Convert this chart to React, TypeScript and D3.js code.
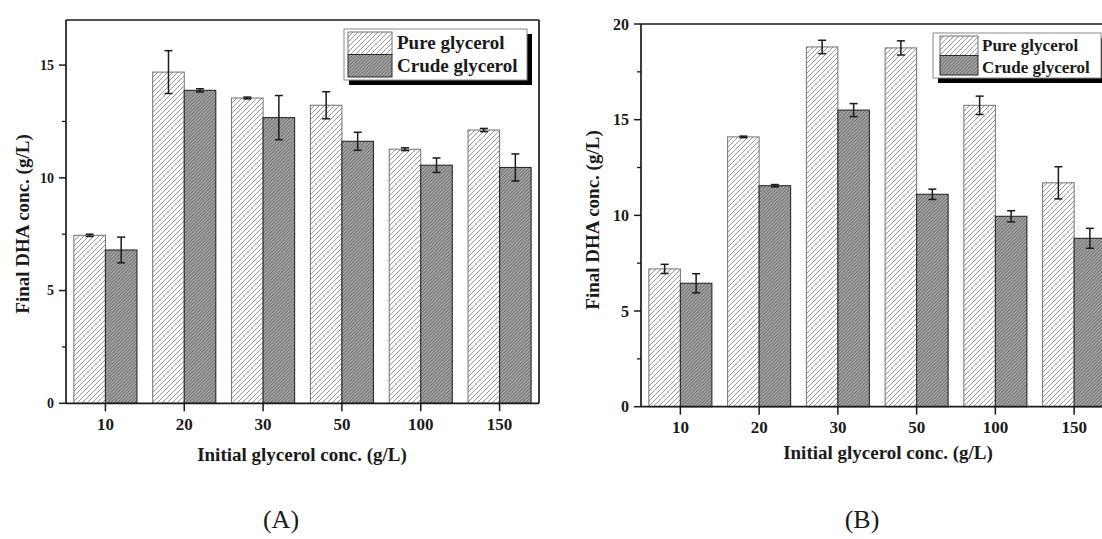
import React from 'react';
import * as d3 from 'd3';

const categories = ['10', '20', '30', '50', '100', '150'];
const seriesNames = ['Pure glycerol', 'Crude glycerol'];

const pureA = [7.45, 14.69, 13.54, 13.22, 11.27, 12.12];
const pureAErr = [0.05, 0.95, 0.04, 0.6, 0.06, 0.07];
const crudeA = [6.8, 13.88, 12.67, 11.62, 10.56, 10.46];
const crudeAErr = [0.57, 0.07, 0.98, 0.4, 0.32, 0.6];

const pureB = [7.2, 14.1, 18.8, 18.75, 15.75, 11.7];
const pureBErr = [0.24, 0.04, 0.35, 0.37, 0.48, 0.84];
const crudeB = [6.45, 11.55, 15.5, 11.1, 9.95, 8.8];
const crudeBErr = [0.5, 0.06, 0.34, 0.27, 0.29, 0.52];

const yTicksA = [0, 5, 10, 15];
const yMinorA = [2.5, 7.5, 12.5];
const yTicksB = [0, 5, 10, 15, 20];
const yMinorB = [2.5, 7.5, 12.5, 17.5];

const xTitle = 'Initial glycerol conc. (g/L)';
const yTitle = 'Final DHA conc. (g/L)';
const panelLabels = ['(A)', '(B)'];

const FONT = '"Liberation Serif", "Times New Roman", serif';
const INK = '#1a1a1a';

type Cfg = {
  x0: number; x1: number; yTop: number; yBottom: number; yMax: number;
  ticks: number[]; minor: number[];
  pure: number[]; pureErr: number[]; crude: number[]; crudeErr: number[];
  yTickFont: number; xTickFont: number; titleFont: number;
  xTickBase: number; xTitleX: number; xTitleY: number;
  yTitleX: number; yTitleY: number;
  legend: { x: number; y: number; w: number; h: number; sw: number; sx: number; tx: number; font: number; b1: number; b2: number };
  label: string; labelX: number;
};

function Panel({ c }: { c: Cfg }) {
  const x = d3.scaleBand<string>().domain(categories).range([c.x0, c.x1]).paddingInner(0).paddingOuter(0);
  const y = d3.scaleLinear().domain([0, c.yMax]).range([c.yBottom, c.yTop]);
  const bw = x.bandwidth() * 0.4;
  const cx = (cat: string) => (x(cat) as number) + x.bandwidth() / 2;
  const cap = 4;
  const L = c.legend;
  const rowH = (L.h - 6) / 2;
  return (
    <g>
      {categories.map((cat, i) => (
        <g key={cat}>
          <rect x={cx(cat) - bw} y={y(c.pure[i])} width={bw} height={c.yBottom - y(c.pure[i])}
            fill="url(#hatchPure)" stroke="#707070" strokeWidth={1} />
          <rect x={cx(cat)} y={y(c.crude[i])} width={bw} height={c.yBottom - y(c.crude[i])}
            fill="url(#hatchCrude)" stroke="#2a2a2a" strokeWidth={1.1} />
        </g>
      ))}
      {categories.map((cat, i) => {
        const px = cx(cat) - bw / 2;
        const qx = cx(cat) + bw / 2;
        return (
          <g key={'e' + cat} stroke={INK} strokeWidth={1.5}>
            <line x1={px} x2={px} y1={y(c.pure[i] - c.pureErr[i])} y2={y(c.pure[i] + c.pureErr[i])} />
            <line x1={px - cap} x2={px + cap} y1={y(c.pure[i] - c.pureErr[i])} y2={y(c.pure[i] - c.pureErr[i])} />
            <line x1={px - cap} x2={px + cap} y1={y(c.pure[i] + c.pureErr[i])} y2={y(c.pure[i] + c.pureErr[i])} />
            <line x1={qx} x2={qx} y1={y(c.crude[i] - c.crudeErr[i])} y2={y(c.crude[i] + c.crudeErr[i])} />
            <line x1={qx - cap} x2={qx + cap} y1={y(c.crude[i] - c.crudeErr[i])} y2={y(c.crude[i] - c.crudeErr[i])} />
            <line x1={qx - cap} x2={qx + cap} y1={y(c.crude[i] + c.crudeErr[i])} y2={y(c.crude[i] + c.crudeErr[i])} />
          </g>
        );
      })}
      <g stroke={INK} strokeWidth={1.7} fill="none">
        <line x1={c.x0} x2={c.x0} y1={c.yTop} y2={c.yBottom} />
        <line x1={c.x0} x2={c.x1} y1={c.yBottom} y2={c.yBottom} />
        <line x1={c.x0} x2={c.x1} y1={c.yTop} y2={c.yTop} />
        <line x1={c.x1} x2={c.x1} y1={c.yTop} y2={c.yBottom} />
      </g>
      {c.ticks.map((t) => (
        <g key={'yt' + t}>
          <line x1={c.x0 - 7} x2={c.x0} y1={y(t)} y2={y(t)} stroke={INK} strokeWidth={1.5} />
          <text x={c.x0 - 12} y={y(t)} dy="0.35em" textAnchor="end" fontFamily={FONT} fontWeight="bold"
            fontSize={c.yTickFont} fill={INK}>{t}</text>
        </g>
      ))}
      {c.minor.map((t) => (
        <line key={'ym' + t} x1={c.x0 - 4} x2={c.x0} y1={y(t)} y2={y(t)} stroke={INK} strokeWidth={1.3} />
      ))}
      {categories.map((cat) => (
        <g key={'xt' + cat}>
          <line x1={cx(cat)} x2={cx(cat)} y1={c.yBottom} y2={c.yBottom + 8} stroke={INK} strokeWidth={1.5} />
          <text x={cx(cat)} y={c.xTickBase} textAnchor="middle" fontFamily={FONT} fontWeight="bold"
            fontSize={c.xTickFont} fill={INK}>{cat}</text>
        </g>
      ))}
      <text x={c.xTitleX} y={c.xTitleY} textAnchor="middle" fontFamily={FONT} fontWeight="bold"
        fontSize={c.titleFont} fill={INK}>{xTitle}</text>
      <text transform={`translate(${c.yTitleX},${c.yTitleY}) rotate(-90)`} textAnchor="middle" dy="0.35em"
        fontFamily={FONT} fontWeight="bold" fontSize={c.titleFont} fill={INK}>{yTitle}</text>
      <rect x={L.x + 5} y={L.y + 5} width={L.w} height={L.h} fill="#000" />
      <rect x={L.x} y={L.y} width={L.w} height={L.h} fill="#fff" stroke="#8a8a8a" strokeWidth={1} />
      <rect x={L.sx} y={L.y + 3} width={L.sw} height={rowH} fill="url(#hatchPure)" stroke="#707070" strokeWidth={1} />
      <rect x={L.sx} y={L.y + 3 + rowH} width={L.sw} height={rowH} fill="url(#hatchCrude)" stroke="#2a2a2a" strokeWidth={1} />
      <text x={L.tx} y={L.b1} fontFamily={FONT} fontWeight="bold" fontSize={L.font} fill={INK}>{seriesNames[0]}</text>
      <text x={L.tx} y={L.b2} fontFamily={FONT} fontWeight="bold" fontSize={L.font} fill={INK}>{seriesNames[1]}</text>
      <text x={c.labelX} y={528} textAnchor="middle" fontFamily={FONT} fontSize={26} fill={INK}>{c.label}</text>
    </g>
  );
}

export default function App() {
  const cfgA: Cfg = {
    x0: 66, x1: 539, yTop: 20, yBottom: 403.3, yMax: 17,
    ticks: yTicksA, minor: yMinorA,
    pure: pureA, pureErr: pureAErr, crude: crudeA, crudeErr: crudeAErr,
    yTickFont: 14, xTickFont: 17, titleFont: 19,
    xTickBase: 430, xTitleX: 302, xTitleY: 461,
    yTitleX: 22, yTitleY: 224,
    legend: { x: 344, y: 29, w: 183, h: 51, sw: 44, sx: 348, tx: 397, font: 19, b1: 49, b2: 72 },
    label: panelLabels[0], labelX: 281,
  };
  const cfgB: Cfg = {
    x0: 641, x1: 1113.5, yTop: 24, yBottom: 406.7, yMax: 20,
    ticks: yTicksB, minor: yMinorB,
    pure: pureB, pureErr: pureBErr, crude: crudeB, crudeErr: crudeBErr,
    yTickFont: 16, xTickFont: 17, titleFont: 19,
    xTickBase: 433, xTitleX: 888, xTitleY: 459,
    yTitleX: 592, yTitleY: 220,
    legend: { x: 933, y: 33, w: 168, h: 45, sw: 38, sx: 940, tx: 982, font: 17, b1: 51, b2: 73 },
    label: panelLabels[1], labelX: 862,
  };
  return (
    <svg width={1102} height={539} viewBox="0 0 1102 539"
      style={{ position: 'absolute', left: 0, top: 0, display: 'block', background: '#fff' }}>
      <defs>
        <pattern id="hatchPure" patternUnits="userSpaceOnUse" width={5} height={5}>
          <rect width={5} height={5} fill="#fff" />
          <path d="M0,5 L5,0 M-2.5,2.5 L2.5,-2.5 M2.5,7.5 L7.5,2.5" stroke="#8c8c8c" strokeWidth={0.9} />
        </pattern>
        <pattern id="hatchCrude" patternUnits="userSpaceOnUse" width={3.4} height={3.4}>
          <rect width={3.4} height={3.4} fill="#b0b0b0" />
          <path d="M0,3.4 L3.4,0 M-1.7,1.7 L1.7,-1.7 M1.7,5.1 L5.1,1.7" stroke="#5a5a5a" strokeWidth={0.9} />
        </pattern>
      </defs>
      <rect width={1102} height={539} fill="#fff" />
      <Panel c={cfgA} />
      <Panel c={cfgB} />
    </svg>
  );
}
